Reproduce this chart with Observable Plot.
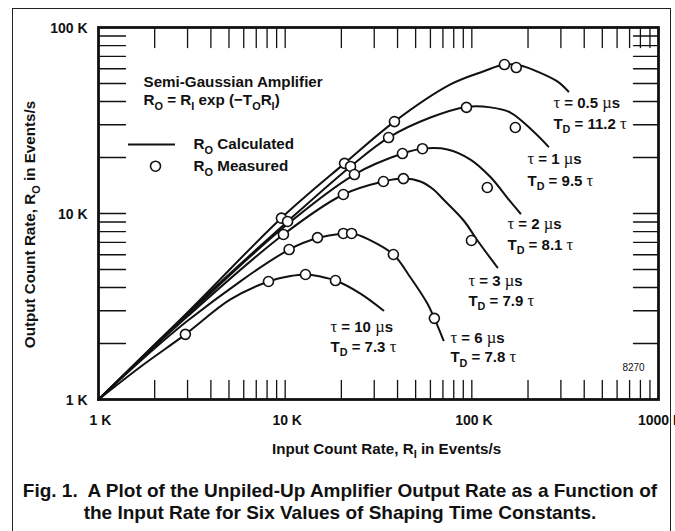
<!DOCTYPE html>
<html><head><meta charset="utf-8">
<script src="https://cdn.jsdelivr.net/npm/d3@7"></script>
<script src="https://cdn.jsdelivr.net/npm/@observablehq/plot@0.6"></script>
<style>
html,body{margin:0;padding:0;background:#fff;}
#wrap{position:relative;width:675px;height:531px;overflow:hidden;font-family:"Liberation Sans",Arial,Helvetica,sans-serif;color:#111;}
#chart{position:absolute;left:0;top:0;}
#border{position:absolute;left:12px;top:8px;width:659px;height:560px;border:1.5px solid #222;box-sizing:border-box;}
#caption{position:absolute;left:0;top:480px;width:680px;text-align:center;font-weight:bold;font-size:19px;line-height:22px;}
</style></head><body>
<div id="wrap"><div id="chart"></div><div id="caption">Fig. 1.&nbsp; A Plot of the Unpiled-Up Amplifier Output Rate as a Function of<br>the Input Rate for Six Values of Shaping Time Constants.</div><div id="border"></div></div>
<script>
// ---- data (rates in K events/s) ----
const tauLabels = ["0.5", "1", "2", "3", "6", "10"];
const tdLabels = ["11.2", "9.5", "8.1", "7.9", "7.8", "7.3"];

// calculated curves R_O vs R_I
const calcRi_05 = [1, 3.0, 9.55, 20.8, 38.5, 76.8, 115, 149.5, 182, 224, 287, 329];
const calcRo_05 = [1, 2.94, 9.46, 18.6, 31.2, 49.4, 58.0, 63.2, 62.5, 58.0, 51.3, 45.3];
const calcRi_1 = [1, 3.0, 10.3, 22.4, 35.8, 60.0, 93.6, 125.8, 161, 213.8, 257];
const calcRo_1 = [1, 2.92, 9.06, 17.9, 25.6, 32.8, 37.4, 37.2, 34.9, 27.6, 22.9];
const calcRi_2 = [1, 3.0, 9.79, 23.5, 42.5, 54.4, 74.0, 98.3, 125.8, 159, 182];
const calcRo_2 = [1, 2.86, 8.41, 16.2, 21.0, 22.3, 22.1, 19.5, 15.7, 11.75, 10.0];
const calcRi_3 = [1, 3.0, 9.79, 20.5, 33.6, 43.0, 53.0, 62.3, 70.5, 90.4, 107.2, 137];
const calcRo_3 = [1, 2.80, 7.71, 12.65, 14.86, 15.4, 14.86, 13.46, 11.89, 9.17, 7.16, 5.13];
const calcRi_6 = [1, 3.0, 10.5, 14.9, 20.5, 22.9, 27.6, 38.0, 46.9, 57.8, 63.0, 70.5];
const calcRo_6 = [1, 2.65, 6.40, 7.38, 7.81, 7.84, 7.3, 6.02, 4.53, 3.28, 2.73, 2.08];
const calcRi_10 = [1, 1.68, 2.92, 5.09, 8.14, 10.7, 12.85, 15.5, 18.6, 25.3, 33.6];
const calcRo_10 = [1, 1.50, 2.24, 3.45, 4.31, 4.61, 4.70, 4.58, 4.36, 3.71, 3.01];

// measured points
const measRi_05 = [9.55, 20.8, 38.5, 149.5, 173];
const measRo_05 = [9.44, 18.6, 31.2, 63.2, 60.9];
const measRi_1 = [10.3, 22.4, 35.8, 93.6, 171];
const measRo_1 = [9.06, 17.9, 25.6, 37.2, 29.0];
const measRi_2 = [23.5, 42.5, 54.4, 121];
const measRo_2 = [16.2, 21.0, 22.3, 13.8];
const measRi_3 = [9.79, 20.5, 33.6, 43.0, 99.5];
const measRo_3 = [7.71, 12.65, 14.86, 15.4, 7.16];
const measRi_6 = [10.5, 14.9, 20.5, 22.7, 38.0, 63.0];
const measRo_6 = [6.40, 7.42, 7.81, 7.81, 6.02, 2.73];
const measRi_10 = [2.92, 8.14, 12.85, 18.6];
const measRo_10 = [2.24, 4.31, 4.70, 4.36];

// axis ticks
const majorTicksX = [1, 10, 100, 1000];
const majorTicksY = [1, 10, 100];
const tickLabelsX = ["1 K", "10 K", "100 K", "1000 K"];
const tickLabelsY = ["1 K", "10 K", "100 K"];
const minorTicksX = [2,3,4,5,6,7,8,9,10,20,30,40,50,60,70,80,90,100,200,300,400,500,600,700,800,900];
const minorTicksY = [2,3,4,5,6,7,8,9,10,20,30,40,50,60,70,80,90];

// ---- build tables ----
const calcRi = [calcRi_05, calcRi_1, calcRi_2, calcRi_3, calcRi_6, calcRi_10];
const calcRo = [calcRo_05, calcRo_1, calcRo_2, calcRo_3, calcRo_6, calcRo_10];
const measRi = [measRi_05, measRi_1, measRi_2, measRi_3, measRi_6, measRi_10];
const measRo = [measRo_05, measRo_1, measRo_2, measRo_3, measRo_6, measRo_10];
const calc = [], meas = [];
tauLabels.forEach((t, k) => {
  calcRi[k].forEach((ri, i) => calc.push({tau: t, ri, ro: calcRo[k][i]}));
  measRi[k].forEach((ri, i) => meas.push({tau: t, ri, ro: measRo[k][i]}));
});

// label anchor points (data coordinates) for the curve annotations
const labelAtX = [273.6, 198.6, 155.2, 95.9, 76.8, 17.5];
const labelTauY = [39.0, 19.5, 8.73, 4.31, 2.14, 2.44];
const labelTdY = [30.3, 15.0, 6.77, 3.39, 1.68, 1.92];
const curveLabels = [];
tauLabels.forEach((t, k) => {
  curveLabels.push({x: labelAtX[k], y: labelTauY[k], text: `τ = ${t} µs`});
  curveLabels.push({x: labelAtX[k], y: labelTdY[k], text: `T{D} = ${tdLabels[k]} τ`});
});

const lineShape = {draw(ctx, l) { ctx.moveTo(0, 0); ctx.lineTo(0, -l); }};
const ink = "#111";
const fmtX = d => tickLabelsX[majorTicksX.indexOf(d)];
const fmtY = d => tickLabelsY[majorTicksY.indexOf(d)];

const plot = Plot.plot({
  width: 675, height: 466,
  marginLeft: 98, marginRight: 17, marginTop: 27, marginBottom: 67,
  style: {fontFamily: "'Liberation Sans', Arial, Helvetica, sans-serif", fontSize: "14px", fontWeight: "bold", color: ink, background: "white", overflow: "visible"},
  x: {type: "log", domain: [1, 1000]},
  y: {type: "log", domain: [1, 100]},
  marks: [
    // inward minor ticks on four sides
    Plot.vector(minorTicksX, {x: d => d, frameAnchor: "bottom", anchor: "start", rotate: 0, length: 19, shape: lineShape, stroke: ink, strokeWidth: 1.3}),
    Plot.vector(minorTicksX, {x: d => d, frameAnchor: "top", anchor: "start", rotate: 180, length: 20, shape: lineShape, stroke: ink, strokeWidth: 1.3}),
    Plot.vector(minorTicksY, {y: d => d, frameAnchor: "left", anchor: "start", rotate: 90, length: 27, shape: lineShape, stroke: ink, strokeWidth: 1.3}),
    Plot.vector(minorTicksY, {y: d => d, frameAnchor: "right", anchor: "start", rotate: -90, length: 25, shape: lineShape, stroke: ink, strokeWidth: 1.3}),
    Plot.frame({stroke: ink, strokeWidth: 2.8}),
    Plot.axisX({ticks: majorTicksX, tickFormat: fmtX, tickSize: 0, tickPadding: 16, dx: 2, label: null, fontSize: 14}),
    Plot.axisY({ticks: majorTicksY, tickFormat: fmtY, tickSize: 0, tickPadding: 11, dy: 1, label: null, fontSize: 14}),
    // curves
    Plot.line(calc, {x: "ri", y: "ro", z: "tau", curve: "catmull-rom", stroke: ink, strokeWidth: 2}),
    Plot.dot(meas, {x: "ri", y: "ro", r: 5, fill: "white", stroke: ink, strokeWidth: 1.6}),
    // curve annotations
    Plot.text(curveLabels, {x: "x", y: "y", text: "text", textAnchor: "start", fontSize: 15}),
    Plot.text(["8270"], {x: [640.8], y: [1.486], textAnchor: "start", fontSize: 10, fontWeight: "normal"}),
    // legend
    Plot.text(["Semi-Gaussian Amplifier"], {x: [1.742], y: [50.6], textAnchor: "start", fontSize: 15.2}),
    Plot.text(["R{O} = R{I} exp (−T{O}R{I})"], {x: [1.742], y: [40.5], textAnchor: "start", fontSize: 15.2}),
    Plot.ruleY([23.5], {x1: 1.448, x2: 2.585, stroke: ink, strokeWidth: 2}),
    Plot.dot([0], {x: [2.02], y: [17.96], r: 5, fill: "white", stroke: ink, strokeWidth: 1.6}),
    Plot.text(["R{O} Calculated"], {x: [3.23], y: [23.5], textAnchor: "start", fontSize: 15.2}),
    Plot.text(["R{O} Measured"], {x: [3.23], y: [17.99], textAnchor: "start", fontSize: 15.2}),
    // axis titles
    Plot.text(["Input Count Rate, R{I} in Events/s"], {frameAnchor: "bottom", textAnchor: "middle", dx: 8, dy: 54, fontSize: 15.2}),
    Plot.text(["Output Count Rate, R{O} in Events/s"], {frameAnchor: "left", textAnchor: "middle", rotate: -90, dx: -68, dy: 11, fontSize: 15.2})
  ]
});
document.getElementById("chart").appendChild(plot);

// rich text: {X} -> subscript, τ/µ -> serif glyphs
function rich(el) {
  const s = el.textContent;
  if (!/[{τµ]/.test(s)) return;
  const fs = parseFloat(getComputedStyle(el).fontSize) || 14;
  el.textContent = "";
  const parts = s.split(/(\{[^}]*\}|[τµ])/g).filter(p => p !== "");
  let shifted = false;
  const sh = fs * 0.3;
  for (const p of parts) {
    const t = document.createElementNS("http://www.w3.org/2000/svg", "tspan");
    if (p.startsWith("{")) {
      t.textContent = p.slice(1, -1);
      t.setAttribute("font-size", (fs * 0.72) + "px");
      t.setAttribute("dy", shifted ? 0 : sh);
      shifted = true;
    } else {
      t.textContent = p;
      if (shifted) { t.setAttribute("dy", -sh); shifted = false; }
      if (p === "τ" || p === "µ") {
        t.setAttribute("font-family", "'Liberation Serif','DejaVu Serif',serif");
        t.setAttribute("font-weight", "normal");
        t.setAttribute("font-size", (fs * 1.1) + "px");
      }
    }
    el.appendChild(t);
  }
}
plot.querySelectorAll("text").forEach(rich);
</script>
</body></html>
